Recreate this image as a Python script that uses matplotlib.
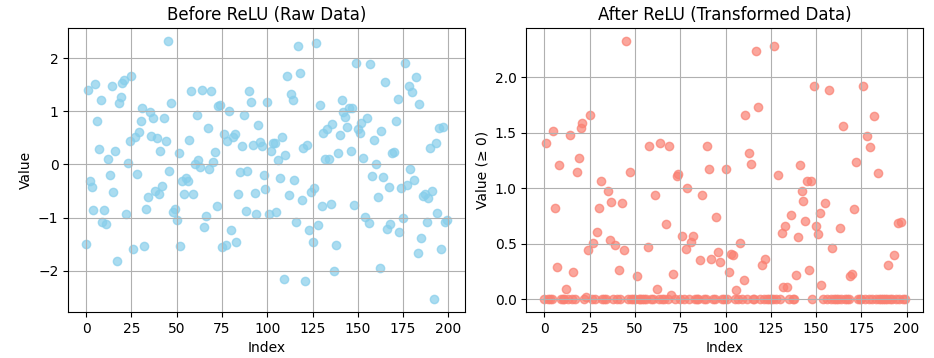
import numpy as np
import matplotlib
matplotlib.use("Agg")
from matplotlib import pyplot as plt

# raw values, in index order
raw_0_28 = [-1.50, 1.41, -0.32, -0.42, -0.85, 1.52, 0.82, 0.29, 1.21, -1.09,
            -0.86, -1.13, 0.095, -0.20, 1.48, -0.51, 0.25, -1.81, 1.15, 1.27,
            1.54, 1.59, -0.93, 0.02, 0.44, 1.66, -1.60, 0.51, -0.18]
raw_29_66 = [0.61, 0.82, 1.07, -1.53, -0.83, -0.61, 0.98, 0.53, 0.88, -0.50,
             0.49, -0.56, 0.26, -0.41, 0.87, 0.44, 2.33, -0.12, 1.15, -0.89,
             -0.83, -1.04, 0.21, -1.53, -0.31, -0.56, -0.26, -0.31, 0.47, 1.38,
             -0.56, 0.0, 0.94, 0.09, -0.05, 1.41, -1.18, -0.98]
raw_67_101 = [0.68, -0.08, 1.38, 0.04, 0.23, -0.78, 1.11, 1.13, -1.55, 0.57,
              -1.52, 0.45, 1.0, -1.23, 0.52, 0.57, -1.46, -0.56, -0.14, 0.35,
              0.94, -0.88, -0.12, 1.38, 1.17, 0.36, -0.54, -0.93, 0.74, 0.43,
              0.34, -0.20, -0.46, 1.17, -0.93]
raw_102_136 = [0.25, 0.41, 0.40, -0.90, 0.08, -0.26, 0.51, -2.16, 0.17, 1.66,
               -0.57, 1.32, 1.22, -0.29, -1.09, 2.24, 1.73, -0.67, 0.31, -2.20,
               0.36, -1.24, -0.52, -1.46, -0.45, 2.28, -1.14, 1.12, -0.79, 0.60,
               0.11, 0.66, 0.11, -0.74, 0.76]
raw_137_172 = [-2.01, -1.51, 0.22, 0.56, 1.21, 0.98, 0.89, 0.71, 1.07, 0.26,
               1.07, -0.76, 1.92, 0.66, 0.59, 0.78, 0.13, -0.99, 0.87, -1.11,
               1.89, -0.22, 0.46, 0.0, -0.62, -1.95, 0.64, -0.23, 1.56, -1.22,
               -0.43, -1.13, 0.21, 0.23, 0.81, 1.24]
raw_173_199 = [-1.28, -0.44, -1.01, 1.92, -0.38, 1.47, -0.09, 1.37, -0.29, 1.65,
               -1.67, 1.14, -1.38, -0.59, -0.56, -1.08, -0.64, 0.31, -0.50, -2.54,
               0.40, -0.91, 0.69, -1.60, 0.70, -1.08, -1.05]

raw = np.array(raw_0_28 + raw_29_66 + raw_67_101 + raw_102_136 + raw_137_172 + raw_173_199)
relu = np.maximum(raw, 0)
idx = np.arange(len(raw))

fig, (ax1, ax2) = plt.subplots(1, 2, figsize=(9.34, 3.58), dpi=100)

ax1.scatter(idx, raw, color='skyblue', alpha=0.7)
ax1.set_title('Before ReLU (Raw Data)')
ax1.set_xlabel('Index')
ax1.set_ylabel('Value')
ax1.grid(True)

ax2.scatter(idx, relu, color='salmon', alpha=0.7)
ax2.set_title('After ReLU (Transformed Data)')
ax2.set_xlabel('Index')
ax2.set_ylabel('Value (≥ 0)')
ax2.grid(True)

plt.subplots_adjust(left=0.073, right=0.988, top=0.922, bottom=0.128, wspace=0.156)
plt.savefig('out.png')
